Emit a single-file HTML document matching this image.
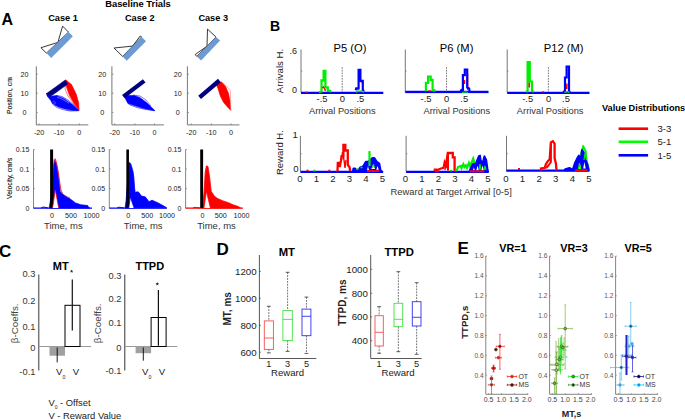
<!DOCTYPE html>
<html><head><meta charset="utf-8"><style>
html,body{margin:0;padding:0;background:#fff;}
svg{display:block;font-family:"Liberation Sans", sans-serif;}
</style></head><body>
<svg width="685" height="420" viewBox="0 0 685 420">
<text x="1.50" y="25.43" font-size="16" text-anchor="start" fill="#000" font-weight="bold" >A</text>
<text x="138.00" y="6.67" font-size="9.4" text-anchor="middle" fill="#000" font-weight="bold" >Baseline Trials</text>
<text x="63.00" y="21.49" font-size="9.2" text-anchor="middle" fill="#000" font-weight="bold" >Case 1</text>
<text x="139.80" y="21.49" font-size="9.2" text-anchor="middle" fill="#000" font-weight="bold" >Case 2</text>
<text x="213.20" y="21.49" font-size="9.2" text-anchor="middle" fill="#000" font-weight="bold" >Case 3</text>
<polygon points="46.40,53.10 40.90,47.70 57.90,42.40 62.60,26.10 68.50,32.10" stroke="#222" stroke-width="0.9" fill="white" />
<polygon points="46.40,53.10 51.20,58.10 72.90,36.20 68.50,32.10" stroke="none" stroke-width="0" fill="#6c9bd3" />
<polygon points="122.60,56.40 114.00,48.00 132.60,46.10 140.20,36.00 141.70,36.90" stroke="#222" stroke-width="0.9" fill="white" />
<polygon points="122.60,56.40 126.70,60.70 146.00,41.20 141.70,36.90" stroke="none" stroke-width="0" fill="#6c9bd3" />
<polygon points="196.80,56.40 195.20,54.50 207.00,46.20 207.50,29.10 216.00,37.10" stroke="#222" stroke-width="0.9" fill="white" />
<polygon points="196.80,56.40 201.10,60.50 220.10,40.60 216.00,37.10" stroke="none" stroke-width="0" fill="#6c9bd3" />
<line x1="36.30" y1="66.30" x2="36.30" y2="124.90" stroke="#777" stroke-width="1" />
<line x1="36.30" y1="124.90" x2="88.30" y2="124.90" stroke="#777" stroke-width="1" />
<text x="24.60" y="76.78" font-size="7.2" text-anchor="middle" fill="#222" >20</text>
<line x1="36.30" y1="74.20" x2="37.80" y2="74.20" stroke="#777" stroke-width="0.8" />
<text x="24.60" y="95.78" font-size="7.2" text-anchor="middle" fill="#222" >10</text>
<line x1="36.30" y1="93.20" x2="37.80" y2="93.20" stroke="#777" stroke-width="0.8" />
<text x="24.60" y="114.98" font-size="7.2" text-anchor="middle" fill="#222" >0</text>
<line x1="36.30" y1="112.40" x2="37.80" y2="112.40" stroke="#777" stroke-width="0.8" />
<text x="39.10" y="134.78" font-size="7.2" text-anchor="middle" fill="#222" >-20</text>
<line x1="39.10" y1="124.90" x2="39.10" y2="123.40" stroke="#777" stroke-width="0.8" />
<text x="59.00" y="134.78" font-size="7.2" text-anchor="middle" fill="#222" >-10</text>
<line x1="59.00" y1="124.90" x2="59.00" y2="123.40" stroke="#777" stroke-width="0.8" />
<text x="79.30" y="134.78" font-size="7.2" text-anchor="middle" fill="#222" >0</text>
<line x1="79.30" y1="124.90" x2="79.30" y2="123.40" stroke="#777" stroke-width="0.8" />
<text x="0" y="2.43" font-size="6.8" text-anchor="middle" fill="#000" transform="translate(10.00,95.60) rotate(-90)" stroke="#000" stroke-width="0.08">Position, cm</text>
<line x1="111.90" y1="66.30" x2="111.90" y2="124.90" stroke="#777" stroke-width="1" />
<line x1="111.90" y1="124.90" x2="163.90" y2="124.90" stroke="#777" stroke-width="1" />
<text x="102.30" y="76.78" font-size="7.2" text-anchor="middle" fill="#222" >20</text>
<line x1="111.90" y1="74.20" x2="113.40" y2="74.20" stroke="#777" stroke-width="0.8" />
<text x="102.30" y="95.78" font-size="7.2" text-anchor="middle" fill="#222" >10</text>
<line x1="111.90" y1="93.20" x2="113.40" y2="93.20" stroke="#777" stroke-width="0.8" />
<text x="102.30" y="114.98" font-size="7.2" text-anchor="middle" fill="#222" >0</text>
<line x1="111.90" y1="112.40" x2="113.40" y2="112.40" stroke="#777" stroke-width="0.8" />
<text x="114.70" y="134.78" font-size="7.2" text-anchor="middle" fill="#222" >-20</text>
<line x1="114.70" y1="124.90" x2="114.70" y2="123.40" stroke="#777" stroke-width="0.8" />
<text x="134.90" y="134.78" font-size="7.2" text-anchor="middle" fill="#222" >-10</text>
<line x1="134.90" y1="124.90" x2="134.90" y2="123.40" stroke="#777" stroke-width="0.8" />
<text x="154.60" y="134.78" font-size="7.2" text-anchor="middle" fill="#222" >0</text>
<line x1="154.60" y1="124.90" x2="154.60" y2="123.40" stroke="#777" stroke-width="0.8" />
<line x1="187.40" y1="66.30" x2="187.40" y2="124.90" stroke="#777" stroke-width="1" />
<line x1="187.40" y1="124.90" x2="239.40" y2="124.90" stroke="#777" stroke-width="1" />
<text x="177.80" y="76.78" font-size="7.2" text-anchor="middle" fill="#222" >20</text>
<line x1="187.40" y1="74.20" x2="188.90" y2="74.20" stroke="#777" stroke-width="0.8" />
<text x="177.80" y="95.78" font-size="7.2" text-anchor="middle" fill="#222" >10</text>
<line x1="187.40" y1="93.20" x2="188.90" y2="93.20" stroke="#777" stroke-width="0.8" />
<text x="177.80" y="114.98" font-size="7.2" text-anchor="middle" fill="#222" >0</text>
<line x1="187.40" y1="112.40" x2="188.90" y2="112.40" stroke="#777" stroke-width="0.8" />
<text x="191.20" y="134.78" font-size="7.2" text-anchor="middle" fill="#222" >-20</text>
<line x1="191.20" y1="124.90" x2="191.20" y2="123.40" stroke="#777" stroke-width="0.8" />
<text x="211.30" y="134.78" font-size="7.2" text-anchor="middle" fill="#222" >-10</text>
<line x1="211.30" y1="124.90" x2="211.30" y2="123.40" stroke="#777" stroke-width="0.8" />
<text x="231.10" y="134.78" font-size="7.2" text-anchor="middle" fill="#222" >0</text>
<line x1="231.10" y1="124.90" x2="231.10" y2="123.40" stroke="#777" stroke-width="0.8" />
<polygon points="46.50,93.10 49.50,96.50 56.20,95.50 63.80,98.40 72.40,104.60 78.60,110.30 78.60,110.70 68.60,110.30 59.10,107.40 52.40,103.60 51.00,100.70 47.10,96.00" stroke="#0000ff" stroke-width="0.6" fill="#0000ff" />
<polyline points="51.50,101.00 53.00,104.50 57.00,107.50 63.00,109.60 70.00,111.00 78.60,110.70" stroke="#0000ff" stroke-width="0.6" fill="none" />
<polyline points="56.00,95.30 62.00,96.50 68.00,100.00 74.00,105.00 78.60,110.30" stroke="#0000ff" stroke-width="0.6" fill="none" />
<polyline points="57.00,97.20 61.00,98.60 65.00,100.80 69.00,103.30" stroke="#ffffff" stroke-width="0.5" fill="none" opacity="0.75"/>
<polyline points="52.20,102.50 53.50,101.20 55.50,102.60 54.50,104.20 52.80,103.80" stroke="#ffffff" stroke-width="0.45" fill="none" opacity="0.7"/>
<polyline points="58.00,107.30 64.00,109.20 71.00,110.30" stroke="#ffffff" stroke-width="0.45" fill="none" opacity="0.7"/>
<polygon points="65.70,79.80 71.50,84.50 76.20,94.10 78.60,102.60 79.10,110.30 74.30,103.60 69.50,95.00 67.00,88.00 66.00,84.00" stroke="#ff0000" stroke-width="0.6" fill="#ff0000" />
<polyline points="65.50,84.00 65.00,89.00 68.00,96.00 74.00,104.00 79.10,110.30" stroke="#ff0000" stroke-width="0.5" fill="none" />
<polyline points="66.00,86.00 70.00,97.00 79.10,110.30" stroke="#ff0000" stroke-width="0.4" fill="none" />
<polygon points="46.50,93.60 65.30,80.00 67.50,84.30 49.80,97.00" stroke="#000080" stroke-width="0.5" fill="#000080" />
<polygon points="123.60,95.50 134.10,95.50 139.80,97.40 146.50,102.60 154.60,110.30 154.60,110.70 143.60,108.40 134.10,105.50 128.30,103.60 126.90,101.70 125.00,97.90" stroke="#0000ff" stroke-width="0.6" fill="#0000ff" />
<polyline points="127.00,102.50 130.00,105.00 138.00,107.80 146.00,109.50 154.60,110.70" stroke="#0000ff" stroke-width="0.6" fill="none" />
<polyline points="133.00,95.00 140.00,96.00 146.00,100.00 151.00,106.00" stroke="#0000ff" stroke-width="0.5" fill="none" />
<line x1="123.40" y1="96.60" x2="144.20" y2="80.90" stroke="#000080" stroke-width="4.3" stroke-linecap="butt" stroke-linejoin="round"/>
<polygon points="215.50,82.60 221.70,82.10 225.50,86.40 228.40,93.10 229.80,99.80 230.70,110.30 228.40,107.90 223.60,102.60 220.30,96.00 217.90,88.30" stroke="#ff0000" stroke-width="0.6" fill="#ff0000" />
<polyline points="221.20,81.70 226.50,86.40 230.30,90.30 230.60,97.00 230.70,110.30" stroke="#ff6060" stroke-width="0.5" fill="none" />
<line x1="199.60" y1="97.40" x2="219.40" y2="80.50" stroke="#000080" stroke-width="4.3" stroke-linecap="butt"/>
<line x1="33.50" y1="149.50" x2="33.50" y2="208.10" stroke="#777" stroke-width="0.9" />
<text x="29.30" y="152.01" font-size="7" text-anchor="end" fill="#222" >0.15</text>
<line x1="33.50" y1="149.50" x2="34.80" y2="149.50" stroke="#777" stroke-width="0.7" />
<text x="29.30" y="171.51" font-size="7" text-anchor="end" fill="#222" >0.1</text>
<line x1="33.50" y1="169.00" x2="34.80" y2="169.00" stroke="#777" stroke-width="0.7" />
<text x="29.30" y="191.11" font-size="7" text-anchor="end" fill="#222" >0.05</text>
<line x1="33.50" y1="188.60" x2="34.80" y2="188.60" stroke="#777" stroke-width="0.7" />
<text x="29.30" y="210.61" font-size="7" text-anchor="end" fill="#222" >0</text>
<line x1="33.50" y1="208.10" x2="34.80" y2="208.10" stroke="#777" stroke-width="0.7" />
<polygon points="49.20,208.10 50.40,200.90 52.40,184.90 53.60,165.80 54.80,160.20 56.40,164.20 58.00,173.80 59.60,186.50 60.20,191.40 62.00,193.50 64.80,195.60 70.20,199.00 75.50,202.90 80.80,204.80 87.70,205.50 88.80,207.80 89.90,208.10" stroke="#0000ff" stroke-width="0.8" fill="#0000ff" />
<polyline points="41.00,208.00 43.00,207.00 46.00,207.50 48.00,208.00" stroke="#0000ff" stroke-width="1.0" fill="none" />
<line x1="33.50" y1="208.10" x2="92.00" y2="208.10" stroke="#0000ff" stroke-width="1.2" />
<rect x="50.10" y="149.50" width="3.00" height="58.60" fill="#000" stroke="none" stroke-width="1"/>
<polygon points="52.60,208.10 55.30,190.00 58.70,208.10" stroke="none" stroke-width="0" fill="white" />
<polyline points="52.60,208.10 55.30,190.00 58.70,208.10" stroke="#ff0000" stroke-width="0.7" fill="none" />
<text x="52.10" y="218.18" font-size="7.2" text-anchor="middle" fill="#222" >0</text>
<text x="70.90" y="218.18" font-size="7.2" text-anchor="middle" fill="#222" >500</text>
<text x="91.50" y="218.18" font-size="7.2" text-anchor="middle" fill="#222" >1000</text>
<text x="63.30" y="228.90" font-size="9.5" text-anchor="middle" fill="#333" >Time, ms</text>
<text x="0" y="2.43" font-size="6.8" text-anchor="middle" fill="#000" transform="translate(10.00,178.50) rotate(-90)" stroke="#000" stroke-width="0.08">Velocity, cm/s</text>
<line x1="109.30" y1="149.50" x2="109.30" y2="208.10" stroke="#777" stroke-width="0.9" />
<text x="105.10" y="152.01" font-size="7" text-anchor="end" fill="#222" >0.15</text>
<line x1="109.30" y1="149.50" x2="110.60" y2="149.50" stroke="#777" stroke-width="0.7" />
<text x="105.10" y="171.51" font-size="7" text-anchor="end" fill="#222" >0.1</text>
<line x1="109.30" y1="169.00" x2="110.60" y2="169.00" stroke="#777" stroke-width="0.7" />
<text x="105.10" y="191.11" font-size="7" text-anchor="end" fill="#222" >0.05</text>
<line x1="109.30" y1="188.60" x2="110.60" y2="188.60" stroke="#777" stroke-width="0.7" />
<text x="105.10" y="210.61" font-size="7" text-anchor="end" fill="#222" >0</text>
<line x1="109.30" y1="208.10" x2="110.60" y2="208.10" stroke="#777" stroke-width="0.7" />
<polygon points="125.00,208.10 126.10,200.90 128.00,175.00 129.00,162.60 130.60,163.40 131.40,165.80 133.00,171.40 133.80,177.00 134.60,188.10 135.20,192.60 137.00,191.80 138.70,192.20 141.30,196.00 145.20,196.80 149.00,201.70 152.00,200.20 158.10,202.90 164.20,206.30 166.50,207.80" stroke="#0000ff" stroke-width="0.8" fill="#0000ff" />
<polyline points="117.00,208.00 119.00,207.20 122.00,207.60 124.00,208.00" stroke="#0000ff" stroke-width="1.0" fill="none" />
<line x1="109.30" y1="208.10" x2="166.90" y2="208.10" stroke="#0000ff" stroke-width="1.2" />
<rect x="126.35" y="149.50" width="2.60" height="58.60" fill="#000" stroke="none" stroke-width="1"/>
<polygon points="128.80,208.10 130.30,197.10 134.10,208.10" stroke="none" stroke-width="0" fill="white" />
<polyline points="128.80,208.10 130.30,197.10 134.10,208.10" stroke="#0000ff" stroke-width="0.7" fill="none" />
<text x="128.30" y="218.18" font-size="7.2" text-anchor="middle" fill="#222" >0</text>
<text x="147.20" y="218.18" font-size="7.2" text-anchor="middle" fill="#222" >500</text>
<text x="167.00" y="218.18" font-size="7.2" text-anchor="middle" fill="#222" >1000</text>
<text x="143.20" y="228.90" font-size="9.5" text-anchor="middle" fill="#333" >Time, ms</text>
<line x1="185.60" y1="149.50" x2="185.60" y2="208.10" stroke="#777" stroke-width="0.9" />
<text x="181.40" y="152.01" font-size="7" text-anchor="end" fill="#222" >0.15</text>
<line x1="185.60" y1="149.50" x2="186.90" y2="149.50" stroke="#777" stroke-width="0.7" />
<text x="181.40" y="171.51" font-size="7" text-anchor="end" fill="#222" >0.1</text>
<line x1="185.60" y1="169.00" x2="186.90" y2="169.00" stroke="#777" stroke-width="0.7" />
<text x="181.40" y="191.11" font-size="7" text-anchor="end" fill="#222" >0.05</text>
<line x1="185.60" y1="188.60" x2="186.90" y2="188.60" stroke="#777" stroke-width="0.7" />
<text x="181.40" y="210.61" font-size="7" text-anchor="end" fill="#222" >0</text>
<line x1="185.60" y1="208.10" x2="186.90" y2="208.10" stroke="#777" stroke-width="0.7" />
<polygon points="202.40,208.10 204.00,192.90 205.20,172.20 206.40,165.80 208.00,166.60 209.60,177.00 211.20,191.30 214.30,196.10 217.50,198.50 223.10,200.90 227.90,202.50 233.50,204.90 238.30,206.50 240.70,208.10" stroke="#ff0000" stroke-width="0.8" fill="#ff0000" />
<polyline points="193.00,208.00 195.00,207.30 198.00,207.70 200.00,208.00" stroke="#ff0000" stroke-width="1.0" fill="none" />
<line x1="185.60" y1="208.10" x2="242.90" y2="208.10" stroke="#ff0000" stroke-width="1.2" />
<rect x="200.20" y="149.50" width="2.90" height="58.60" fill="#000" stroke="none" stroke-width="1"/>
<polygon points="204.00,208.10 206.40,191.30 210.40,208.10" stroke="none" stroke-width="0" fill="white" />
<polyline points="204.00,208.10 206.40,191.30 210.40,208.10" stroke="#ff0000" stroke-width="0.7" fill="none" />
<text x="202.40" y="218.18" font-size="7.2" text-anchor="middle" fill="#222" >0</text>
<text x="220.80" y="218.18" font-size="7.2" text-anchor="middle" fill="#222" >500</text>
<text x="241.50" y="218.18" font-size="7.2" text-anchor="middle" fill="#222" >1000</text>
<text x="216.50" y="228.90" font-size="9.5" text-anchor="middle" fill="#333" >Time, ms</text>
<polyline points="53.40,168.00 54.20,159.20 55.30,158.80 56.80,164.00 58.30,172.00 59.80,183.00 61.00,190.00 62.50,193.50" stroke="#ff0000" stroke-width="0.8" fill="none" />
<polyline points="62.00,193.00 64.00,195.00 67.00,197.00 70.00,197.50" stroke="#ff3030" stroke-width="0.6" fill="none" />
<text x="270.00" y="31.31" font-size="14" text-anchor="start" fill="#000" font-weight="bold" >B</text>
<text x="350.00" y="51.71" font-size="11.2" text-anchor="middle" fill="#000" >P5 (O)</text>
<line x1="301.00" y1="49.50" x2="301.00" y2="92.70" stroke="#666" stroke-width="0.9" />
<line x1="301.00" y1="71.00" x2="302.30" y2="71.00" stroke="#666" stroke-width="0.7" />
<line x1="342.20" y1="67.20" x2="342.20" y2="92.70" stroke="#666" stroke-width="0.9" stroke-dasharray="1.6,1.1"/>
<text x="322.00" y="101.77" font-size="9.4" text-anchor="middle" fill="#222" >-.5</text>
<text x="342.40" y="101.77" font-size="9.4" text-anchor="middle" fill="#222" >0</text>
<text x="360.30" y="101.77" font-size="9.4" text-anchor="middle" fill="#222" >.5</text>
<text x="342.30" y="114.03" font-size="9.3" text-anchor="middle" fill="#333" >Arrival Positions</text>
<text x="297.00" y="54.22" font-size="9" text-anchor="end" fill="#222" >.6</text>
<text x="297.00" y="93.42" font-size="9" text-anchor="end" fill="#222" >0</text>
<text x="0" y="3.44" font-size="9.6" text-anchor="middle" fill="#222" transform="translate(279.60,71.00) rotate(-90)" >Arrivals H.</text>
<text x="456.60" y="51.71" font-size="11.2" text-anchor="middle" fill="#000" >P6 (M)</text>
<line x1="405.30" y1="49.50" x2="405.30" y2="92.70" stroke="#666" stroke-width="0.9" />
<line x1="405.30" y1="71.00" x2="406.60" y2="71.00" stroke="#666" stroke-width="0.7" />
<line x1="446.50" y1="67.20" x2="446.50" y2="92.70" stroke="#666" stroke-width="0.9" stroke-dasharray="1.6,1.1"/>
<text x="426.00" y="101.77" font-size="9.4" text-anchor="middle" fill="#222" >-.5</text>
<text x="446.70" y="101.77" font-size="9.4" text-anchor="middle" fill="#222" >0</text>
<text x="464.20" y="101.77" font-size="9.4" text-anchor="middle" fill="#222" >.5</text>
<text x="456.80" y="114.03" font-size="9.3" text-anchor="middle" fill="#333" >Arrival Positions</text>
<text x="563.70" y="51.71" font-size="11.2" text-anchor="middle" fill="#000" >P12 (M)</text>
<line x1="507.20" y1="49.50" x2="507.20" y2="92.70" stroke="#666" stroke-width="0.9" />
<line x1="507.20" y1="71.00" x2="508.50" y2="71.00" stroke="#666" stroke-width="0.7" />
<line x1="548.40" y1="67.20" x2="548.40" y2="92.70" stroke="#666" stroke-width="0.9" stroke-dasharray="1.6,1.1"/>
<text x="527.70" y="101.77" font-size="9.4" text-anchor="middle" fill="#222" >-.5</text>
<text x="548.50" y="101.77" font-size="9.4" text-anchor="middle" fill="#222" >0</text>
<text x="566.00" y="101.77" font-size="9.4" text-anchor="middle" fill="#222" >.5</text>
<text x="550.20" y="114.03" font-size="9.3" text-anchor="middle" fill="#333" >Arrival Positions</text>
<line x1="301.00" y1="92.80" x2="383.30" y2="92.80" stroke="#0000ff" stroke-width="2.2" />
<polyline points="319.00,92.20 321.50,91.50 321.50,80.40 323.60,80.40 323.60,70.80 325.40,70.80 325.40,87.40 327.80,87.40 327.80,90.90 330.00,90.90 331.00,92.00" stroke="#00ee00" stroke-width="2.2" fill="none" stroke-linejoin="miter"/>
<polyline points="322.30,88.00 323.50,86.80 325.60,90.90" stroke="#ff0000" stroke-width="1.4" fill="none" stroke-linejoin="miter"/>
<polyline points="355.70,90.30 356.20,88.30 358.60,88.30 358.60,69.90 360.40,69.90 360.40,80.80 362.80,80.80 362.80,90.90 364.50,90.90" stroke="#0000ff" stroke-width="2.2" fill="none" stroke-linejoin="miter"/>
<polyline points="360.80,82.30 361.80,82.30" stroke="#ff0000" stroke-width="1.2" fill="none" stroke-linejoin="miter"/>
<polyline points="357.50,90.30 358.50,89.00" stroke="#ff0000" stroke-width="1.2" fill="none" stroke-linejoin="miter"/>
<polyline points="356.00,92.00 358.00,91.30 362.00,91.30 364.00,92.00" stroke="#00ee00" stroke-width="1.4" fill="none" stroke-linejoin="miter"/>
<line x1="305.00" y1="92.20" x2="308.00" y2="92.20" stroke="#ff0000" stroke-width="1" />
<line x1="405.30" y1="92.70" x2="488.50" y2="92.70" stroke="#00ee00" stroke-width="1.2" />
<line x1="405.30" y1="91.90" x2="488.50" y2="91.90" stroke="#0000ff" stroke-width="2.2" />
<polyline points="425.90,91.30 425.90,82.80 428.10,82.80 428.10,76.60 430.70,76.60 430.70,79.90 432.60,79.90 432.60,90.40 434.50,90.40 434.50,91.80" stroke="#00ee00" stroke-width="2.2" fill="none" stroke-linejoin="miter"/>
<polyline points="428.00,91.00 431.00,91.00" stroke="#ff0000" stroke-width="1.2" fill="none" stroke-linejoin="miter"/>
<polyline points="467.70,73.50 467.70,90.00" stroke="#ff0000" stroke-width="1.2" fill="none" stroke-linejoin="miter"/>
<polyline points="460.50,91.30 461.50,89.90 462.90,89.90 462.90,75.20 464.80,75.20 464.80,69.50 467.20,69.50 467.20,87.50 469.10,88.50 469.60,91.30" stroke="#0000ff" stroke-width="2.2" fill="none" stroke-linejoin="miter"/>
<polyline points="464.60,80.00 464.60,84.00" stroke="#ff0000" stroke-width="1.2" fill="none" stroke-linejoin="miter"/>
<polyline points="462.00,92.50 466.00,91.80 468.00,92.50" stroke="#00ee00" stroke-width="1.2" fill="none" stroke-linejoin="miter"/>
<line x1="507.20" y1="92.80" x2="589.50" y2="92.80" stroke="#0000ff" stroke-width="2.2" />
<polyline points="526.00,91.80 527.60,91.00 527.60,62.00 529.80,62.00 529.80,81.50 532.00,81.50 532.00,91.00 534.00,91.80" stroke="#00ee00" stroke-width="2.2" fill="none" stroke-linejoin="miter"/>
<polyline points="529.30,82.50 529.30,87.50" stroke="#ff0000" stroke-width="1.6" fill="none" stroke-linejoin="miter"/>
<polyline points="563.00,92.00 565.00,91.00 565.00,77.50 566.60,77.50 566.60,66.50 569.00,66.50 569.00,91.50 570.50,92.00" stroke="#0000ff" stroke-width="2.2" fill="none" stroke-linejoin="miter"/>
<polyline points="566.80,83.50 566.80,89.00" stroke="#ff0000" stroke-width="1.6" fill="none" stroke-linejoin="miter"/>
<polyline points="564.50,92.30 567.00,91.60 569.50,92.30" stroke="#00ee00" stroke-width="1.4" fill="none" stroke-linejoin="miter"/>
<line x1="542.00" y1="91.90" x2="544.00" y2="91.90" stroke="#ff0000" stroke-width="1" />
<line x1="300.40" y1="135.80" x2="300.40" y2="171.60" stroke="#666" stroke-width="0.9" />
<line x1="300.40" y1="153.70" x2="301.70" y2="153.70" stroke="#666" stroke-width="0.7" />
<text x="299.80" y="181.64" font-size="9.6" text-anchor="middle" fill="#222" >0</text>
<text x="316.30" y="181.64" font-size="9.6" text-anchor="middle" fill="#222" >1</text>
<text x="332.80" y="181.64" font-size="9.6" text-anchor="middle" fill="#222" >2</text>
<text x="349.30" y="181.64" font-size="9.6" text-anchor="middle" fill="#222" >3</text>
<text x="365.80" y="181.64" font-size="9.6" text-anchor="middle" fill="#222" >4</text>
<text x="382.30" y="181.64" font-size="9.6" text-anchor="middle" fill="#222" >5</text>
<text x="295.20" y="138.24" font-size="9.6" text-anchor="middle" fill="#222" >1</text>
<text x="295.80" y="172.24" font-size="9.6" text-anchor="middle" fill="#222" >0</text>
<text x="0" y="3.40" font-size="9.5" text-anchor="middle" fill="#222" transform="translate(279.40,152.60) rotate(-90)" >Reward H.</text>
<line x1="406.10" y1="135.80" x2="406.10" y2="171.60" stroke="#666" stroke-width="0.9" />
<line x1="406.10" y1="153.70" x2="407.40" y2="153.70" stroke="#666" stroke-width="0.7" />
<text x="405.50" y="181.64" font-size="9.6" text-anchor="middle" fill="#222" >0</text>
<text x="421.96" y="181.64" font-size="9.6" text-anchor="middle" fill="#222" >1</text>
<text x="438.42" y="181.64" font-size="9.6" text-anchor="middle" fill="#222" >2</text>
<text x="454.88" y="181.64" font-size="9.6" text-anchor="middle" fill="#222" >3</text>
<text x="471.34" y="181.64" font-size="9.6" text-anchor="middle" fill="#222" >4</text>
<text x="487.80" y="181.64" font-size="9.6" text-anchor="middle" fill="#222" >5</text>
<line x1="506.50" y1="135.80" x2="506.50" y2="171.60" stroke="#666" stroke-width="0.9" />
<line x1="506.50" y1="153.70" x2="507.80" y2="153.70" stroke="#666" stroke-width="0.7" />
<text x="505.90" y="181.64" font-size="9.6" text-anchor="middle" fill="#222" >0</text>
<text x="522.52" y="181.64" font-size="9.6" text-anchor="middle" fill="#222" >1</text>
<text x="539.14" y="181.64" font-size="9.6" text-anchor="middle" fill="#222" >2</text>
<text x="555.76" y="181.64" font-size="9.6" text-anchor="middle" fill="#222" >3</text>
<text x="572.38" y="181.64" font-size="9.6" text-anchor="middle" fill="#222" >4</text>
<text x="589.00" y="181.64" font-size="9.6" text-anchor="middle" fill="#222" >5</text>
<text x="451.20" y="194.87" font-size="9.4" text-anchor="middle" fill="#333" >Reward at Target Arrival [0-5]</text>
<line x1="300.40" y1="171.80" x2="382.90" y2="171.80" stroke="#0000ff" stroke-width="2.2" />
<polyline points="337.50,171.50 337.80,162.90 339.70,162.90 339.70,167.00 340.90,161.00 341.60,156.10 343.40,156.10 343.40,144.90 345.30,144.90 345.30,150.50 347.80,150.50 347.80,164.80 349.60,167.30 350.20,171.00" stroke="#ff0000" stroke-width="2.3" fill="none" stroke-linejoin="miter"/>
<polyline points="341.60,160.00 342.50,152.00 344.00,160.00 345.00,168.00 346.00,160.00" stroke="#ff0000" stroke-width="1.4" fill="none" stroke-linejoin="miter"/>
<line x1="306.50" y1="170.60" x2="308.50" y2="170.60" stroke="#ff0000" stroke-width="1.8" />
<line x1="328.30" y1="170.60" x2="330.30" y2="170.60" stroke="#ff0000" stroke-width="1.8" />
<line x1="313.30" y1="170.60" x2="315.30" y2="170.60" stroke="#00ee00" stroke-width="1.8" />
<polygon points="352.73,171.85 353.35,168.50 355.21,168.50 356.45,170.98 358.31,170.36 360.17,167.26 362.03,166.64 363.28,166.02 365.76,161.67 368.24,161.67 370.10,159.81 372.58,157.95 374.44,157.95 376.92,161.67 379.40,163.54 380.65,170.36 382.51,171.85" stroke="#0000ff" stroke-width="1.8" fill="#0000ff" stroke-linejoin="round"/>
<polygon points="371.34,169.12 373.20,164.16 375.06,169.12" stroke="none" stroke-width="0" fill="white" />
<polygon points="376.30,169.74 377.54,166.02 378.78,169.74" stroke="none" stroke-width="0" fill="white" />
<polygon points="367.00,170.36 367.99,166.02 368.98,170.36" stroke="none" stroke-width="0" fill="white" />
<polyline points="369.50,151.10 369.50,166.00" stroke="#00ee00" stroke-width="2.2" fill="none" stroke-linejoin="miter"/>
<line x1="356.50" y1="169.00" x2="358.50" y2="169.00" stroke="#00ee00" stroke-width="1.6" />
<line x1="360.50" y1="167.50" x2="362.50" y2="167.50" stroke="#00ee00" stroke-width="1.6" />
<polyline points="372.50,168.00 373.50,164.00 374.50,168.00" stroke="#00ee00" stroke-width="1.0" fill="none" stroke-linejoin="miter"/>
<line x1="367.00" y1="171.00" x2="379.40" y2="171.00" stroke="#ff0000" stroke-width="2" />
<line x1="406.10" y1="171.80" x2="488.40" y2="171.80" stroke="#0000ff" stroke-width="2.2" />
<polyline points="434.80,171.00 434.80,169.70 436.00,169.70 436.00,171.00 437.90,171.00 437.90,169.70 441.00,168.50 443.50,167.90 444.70,162.30 446.00,165.00 447.80,153.00 452.80,153.00 452.80,157.30 454.60,157.30 454.60,169.70 455.00,171.50" stroke="#ff0000" stroke-width="2.3" fill="none" stroke-linejoin="miter"/>
<polyline points="448.00,153.00 448.00,170.50" stroke="#ff0000" stroke-width="2" fill="none" stroke-linejoin="miter"/>
<polyline points="445.00,170.00 446.00,163.00 447.00,168.00" stroke="#ff0000" stroke-width="1.4" fill="none" stroke-linejoin="miter"/>
<line x1="450.00" y1="170.60" x2="452.00" y2="170.60" stroke="#00ee00" stroke-width="1.8" />
<polyline points="455.50,171.00 457.10,169.70 458.00,167.00 460.80,166.00 461.50,168.00 463.30,164.20 464.50,167.00 465.80,165.40 467.00,168.00 468.90,162.90 470.00,166.00 471.00,164.00 473.20,158.60 475.00,165.00 477.00,168.00 479.40,164.80 481.00,168.00 484.40,168.50 486.00,171.00" stroke="#00ee00" stroke-width="2.2" fill="none" stroke-linejoin="miter"/>
<polygon points="468.90,171.85 469.52,170.98 472.62,164.16 475.72,163.54 478.82,156.09 480.06,155.47 480.68,159.81 482.54,163.54 484.40,156.09 486.27,159.81 487.51,168.50 488.13,171.85" stroke="#0000ff" stroke-width="1.8" fill="#0000ff" stroke-linejoin="round"/>
<polygon points="476.34,170.36 477.58,165.40 478.82,170.36" stroke="none" stroke-width="0" fill="white" />
<polygon points="481.30,170.36 482.54,165.40 483.78,170.36" stroke="none" stroke-width="0" fill="white" />
<polygon points="472.99,170.36 473.86,167.26 474.73,170.36" stroke="none" stroke-width="0" fill="white" />
<polyline points="479.00,170.00 480.00,164.00 481.00,170.00" stroke="#00ee00" stroke-width="1.2" fill="none" stroke-linejoin="miter"/>
<polyline points="484.00,170.00 485.00,166.00 486.00,170.00" stroke="#00ee00" stroke-width="1.2" fill="none" stroke-linejoin="miter"/>
<line x1="469.50" y1="171.30" x2="484.40" y2="171.30" stroke="#ff0000" stroke-width="2" />
<line x1="506.50" y1="170.60" x2="589.40" y2="170.60" stroke="#0000ff" stroke-width="2.2" />
<line x1="518.00" y1="169.00" x2="520.00" y2="169.00" stroke="#ff0000" stroke-width="1.8" />
<polyline points="541.00,170.40 541.00,168.50 544.70,167.90 545.90,164.20 547.80,161.10 549.70,159.20 550.90,142.40 552.80,141.20 554.60,143.70 554.60,158.00 555.90,163.50 556.50,170.40" stroke="#ff0000" stroke-width="2.3" fill="none" stroke-linejoin="miter"/>
<polyline points="550.90,143.00 550.90,162.00 548.00,166.00 546.00,168.00" stroke="#ff0000" stroke-width="2" fill="none" stroke-linejoin="miter"/>
<polyline points="578.50,166.00 580.00,159.00 581.00,154.00 583.20,146.80 585.60,151.10 586.50,160.00 588.00,166.00 589.00,170.00" stroke="#00ee00" stroke-width="2.0" fill="none" stroke-linejoin="miter"/>
<polygon points="564.55,170.36 565.17,169.12 569.52,167.88 572.62,169.74 575.10,162.30 576.96,158.57 578.82,155.47 580.68,159.81 581.92,149.89 583.78,152.37 585.65,159.81 587.51,164.78 588.75,170.36" stroke="#0000ff" stroke-width="1.8" fill="#0000ff" stroke-linejoin="round"/>
<polygon points="578.20,169.12 579.69,162.92 581.18,169.12" stroke="none" stroke-width="0" fill="white" />
<polygon points="583.16,168.50 584.40,161.67 585.65,168.50" stroke="none" stroke-width="0" fill="white" />
<polyline points="582.50,149.00 583.20,146.80 584.50,148.00" stroke="#00ee00" stroke-width="1.6" fill="none" stroke-linejoin="miter"/>
<polyline points="584.00,160.00 585.00,153.00 586.50,160.00" stroke="#00ee00" stroke-width="1.2" fill="none" stroke-linejoin="miter"/>
<polyline points="578.50,169.00 579.50,163.00 580.50,169.00" stroke="#00ee00" stroke-width="1.2" fill="none" stroke-linejoin="miter"/>
<line x1="575.10" y1="170.20" x2="587.50" y2="170.20" stroke="#ff0000" stroke-width="2" />
<text x="602.00" y="110.79" font-size="9.2" text-anchor="start" fill="#000" font-weight="bold" >Value Distributions</text>
<line x1="618.60" y1="128.70" x2="648.10" y2="128.70" stroke="#ff0000" stroke-width="2.6" />
<text x="657.50" y="132.14" font-size="9.6" text-anchor="start" fill="#222" >3-3</text>
<line x1="618.60" y1="141.80" x2="648.10" y2="141.80" stroke="#00ff00" stroke-width="2.6" />
<text x="657.50" y="145.24" font-size="9.6" text-anchor="start" fill="#222" >5-1</text>
<line x1="618.60" y1="155.30" x2="648.10" y2="155.30" stroke="#0000ff" stroke-width="2.6" />
<text x="657.50" y="158.74" font-size="9.6" text-anchor="start" fill="#222" >1-5</text>
<text x="-1.00" y="257.39" font-size="17" text-anchor="start" fill="#000" font-weight="bold" >C</text>
<text x="60.70" y="270.24" font-size="11" text-anchor="middle" fill="#000" font-weight="bold" >MT</text>
<line x1="38.70" y1="274.50" x2="38.70" y2="370.50" stroke="#777" stroke-width="1.5" />
<line x1="38.70" y1="346.50" x2="91.20" y2="346.50" stroke="#999" stroke-width="1.0" />
<text x="35.40" y="277.13" font-size="9.3" text-anchor="end" fill="#333" >0.3</text>
<text x="35.40" y="304.13" font-size="9.3" text-anchor="end" fill="#333" >0.2</text>
<text x="35.40" y="329.53" font-size="9.3" text-anchor="end" fill="#333" >0.1</text>
<text x="35.40" y="351.23" font-size="9.3" text-anchor="end" fill="#333" >0</text>
<text x="35.40" y="374.63" font-size="9.3" text-anchor="end" fill="#333" >-0.1</text>
<rect x="49.50" y="346.50" width="15.50" height="9.20" fill="#a0a0a0" stroke="none" stroke-width="1"/>
<line x1="57.20" y1="347.50" x2="57.20" y2="362.40" stroke="#000" stroke-width="0.9" />
<rect x="65.00" y="305.30" width="15.00" height="41.20" fill="white" stroke="#000" stroke-width="1.0"/>
<line x1="72.30" y1="279.60" x2="72.30" y2="330.50" stroke="#111" stroke-width="1.2" />
<polygon points="71.60,269.40 72.07,270.65 73.41,270.71 72.36,271.55 72.72,272.84 71.60,272.10 70.48,272.84 70.84,271.55 69.79,270.71 71.13,270.65" stroke="none" stroke-width="0" fill="#222" />
<text x="56.00" y="374.80" font-size="9.6" fill="#222">V<tspan font-size="5.2" dy="3.8">0</tspan></text>
<text x="75.90" y="374.84" font-size="9.6" text-anchor="middle" fill="#222" >V</text>
<text x="0" y="3.51" font-size="9.8" text-anchor="middle" fill="#444" transform="translate(14.90,323.30) rotate(-90)" >&#946;-Coeffs.</text>
<text x="149.80" y="270.24" font-size="11" text-anchor="middle" fill="#000" font-weight="bold" >TTPD</text>
<line x1="124.80" y1="274.50" x2="124.80" y2="370.50" stroke="#333" stroke-width="1.0" />
<line x1="124.80" y1="346.50" x2="177.30" y2="346.50" stroke="#999" stroke-width="1.0" />
<text x="121.50" y="278.63" font-size="9.3" text-anchor="end" fill="#333" >0.3</text>
<text x="121.50" y="302.33" font-size="9.3" text-anchor="end" fill="#333" >0.2</text>
<text x="121.50" y="326.13" font-size="9.3" text-anchor="end" fill="#333" >0.1</text>
<text x="121.50" y="350.83" font-size="9.3" text-anchor="end" fill="#333" >0</text>
<text x="121.50" y="374.13" font-size="9.3" text-anchor="end" fill="#333" >-0.1</text>
<rect x="135.60" y="346.50" width="15.50" height="6.70" fill="#a0a0a0" stroke="none" stroke-width="1"/>
<line x1="143.30" y1="347.50" x2="143.30" y2="360.70" stroke="#000" stroke-width="0.9" />
<rect x="151.10" y="317.50" width="15.00" height="29.00" fill="white" stroke="#000" stroke-width="1.0"/>
<line x1="158.40" y1="290.10" x2="158.40" y2="345.80" stroke="#111" stroke-width="1.2" />
<polygon points="157.30,282.10 157.77,283.35 159.11,283.41 158.06,284.25 158.42,285.54 157.30,284.80 156.18,285.54 156.54,284.25 155.49,283.41 156.83,283.35" stroke="none" stroke-width="0" fill="#222" />
<text x="142.10" y="374.80" font-size="9.6" fill="#222">V<tspan font-size="5.2" dy="3.8">0</tspan></text>
<text x="162.00" y="374.84" font-size="9.6" text-anchor="middle" fill="#222" >V</text>
<text x="0" y="3.51" font-size="9.8" text-anchor="middle" fill="#444" transform="translate(97.10,323.30) rotate(-90)" >&#946;-Coeffs.</text>
<text x="48.4" y="406.3" font-size="9.4" fill="#222">V<tspan font-size="5" dy="2.5">0</tspan><tspan dy="-2.5"> - Offset</tspan></text>
<text x="48.40" y="419.27" font-size="9.4" text-anchor="start" fill="#222" >V - Reward Value</text>
<text x="216.60" y="255.19" font-size="17" text-anchor="start" fill="#000" font-weight="bold" >D</text>
<text x="286.80" y="255.65" font-size="11.3" text-anchor="middle" fill="#000" font-weight="bold" >MT</text>
<line x1="259.40" y1="255.00" x2="259.40" y2="358.50" stroke="#444" stroke-width="0.9" />
<line x1="259.40" y1="358.50" x2="316.30" y2="358.50" stroke="#444" stroke-width="0.9" />
<text x="256.60" y="274.87" font-size="9.7" text-anchor="end" fill="#222" >1200</text>
<line x1="259.40" y1="271.40" x2="260.90" y2="271.40" stroke="#444" stroke-width="0.7" />
<text x="256.60" y="301.77" font-size="9.7" text-anchor="end" fill="#222" >1000</text>
<line x1="259.40" y1="298.30" x2="260.90" y2="298.30" stroke="#444" stroke-width="0.7" />
<text x="256.60" y="328.77" font-size="9.7" text-anchor="end" fill="#222" >800</text>
<line x1="259.40" y1="325.30" x2="260.90" y2="325.30" stroke="#444" stroke-width="0.7" />
<text x="256.60" y="355.67" font-size="9.7" text-anchor="end" fill="#222" >600</text>
<line x1="259.40" y1="352.20" x2="260.90" y2="352.20" stroke="#444" stroke-width="0.7" />
<line x1="268.85" y1="306.30" x2="268.85" y2="320.90" stroke="#333" stroke-width="0.7" stroke-dasharray="1.8,1.1"/>
<line x1="268.85" y1="349.40" x2="268.85" y2="352.90" stroke="#333" stroke-width="0.7" stroke-dasharray="1.8,1.1"/>
<line x1="266.95" y1="306.30" x2="270.75" y2="306.30" stroke="#333" stroke-width="0.8" />
<line x1="266.95" y1="352.90" x2="270.75" y2="352.90" stroke="#333" stroke-width="0.8" />
<rect x="264.30" y="320.90" width="9.10" height="28.50" fill="none" stroke="#f05050" stroke-width="0.9"/>
<line x1="264.30" y1="338.00" x2="273.40" y2="338.00" stroke="#f05050" stroke-width="0.9" />
<text x="268.85" y="366.89" font-size="9.2" text-anchor="middle" fill="#222" >1</text>
<line x1="287.60" y1="272.30" x2="287.60" y2="310.60" stroke="#333" stroke-width="0.7" stroke-dasharray="1.8,1.1"/>
<line x1="287.60" y1="340.60" x2="287.60" y2="351.40" stroke="#333" stroke-width="0.7" stroke-dasharray="1.8,1.1"/>
<line x1="285.70" y1="272.30" x2="289.50" y2="272.30" stroke="#333" stroke-width="0.8" />
<line x1="285.70" y1="351.40" x2="289.50" y2="351.40" stroke="#333" stroke-width="0.8" />
<rect x="282.90" y="310.60" width="9.40" height="30.00" fill="none" stroke="#40e040" stroke-width="0.9"/>
<line x1="282.90" y1="319.40" x2="292.30" y2="319.40" stroke="#40e040" stroke-width="0.9" />
<text x="287.60" y="366.89" font-size="9.2" text-anchor="middle" fill="#222" >3</text>
<line x1="306.45" y1="297.10" x2="306.45" y2="309.10" stroke="#333" stroke-width="0.7" stroke-dasharray="1.8,1.1"/>
<line x1="306.45" y1="335.70" x2="306.45" y2="353.40" stroke="#333" stroke-width="0.7" stroke-dasharray="1.8,1.1"/>
<line x1="304.55" y1="297.10" x2="308.35" y2="297.10" stroke="#333" stroke-width="0.8" />
<line x1="304.55" y1="353.40" x2="308.35" y2="353.40" stroke="#333" stroke-width="0.8" />
<rect x="302.00" y="309.10" width="8.90" height="26.60" fill="none" stroke="#3030f0" stroke-width="0.9"/>
<line x1="302.00" y1="316.30" x2="310.90" y2="316.30" stroke="#3030f0" stroke-width="0.9" />
<text x="306.45" y="366.89" font-size="9.2" text-anchor="middle" fill="#222" >5</text>
<text x="287.60" y="376.44" font-size="9.6" text-anchor="middle" fill="#222" >Reward</text>
<text x="0" y="3.58" font-size="10.0" text-anchor="middle" fill="#222" font-weight="bold" transform="translate(227.90,308.80) rotate(-90)" >MT, ms</text>
<text x="399.20" y="255.65" font-size="11.3" text-anchor="middle" fill="#000" font-weight="bold" >TTPD</text>
<line x1="370.70" y1="255.00" x2="370.70" y2="358.50" stroke="#444" stroke-width="0.9" />
<line x1="370.70" y1="358.50" x2="421.70" y2="358.50" stroke="#444" stroke-width="0.9" />
<text x="367.90" y="272.77" font-size="9.7" text-anchor="end" fill="#222" >1000</text>
<line x1="370.70" y1="269.30" x2="372.20" y2="269.30" stroke="#444" stroke-width="0.7" />
<text x="367.90" y="296.77" font-size="9.7" text-anchor="end" fill="#222" >800</text>
<line x1="370.70" y1="293.30" x2="372.20" y2="293.30" stroke="#444" stroke-width="0.7" />
<text x="367.90" y="320.37" font-size="9.7" text-anchor="end" fill="#222" >600</text>
<line x1="370.70" y1="316.90" x2="372.20" y2="316.90" stroke="#444" stroke-width="0.7" />
<text x="367.90" y="344.17" font-size="9.7" text-anchor="end" fill="#222" >400</text>
<line x1="370.70" y1="340.70" x2="372.20" y2="340.70" stroke="#444" stroke-width="0.7" />
<line x1="379.15" y1="306.70" x2="379.15" y2="315.70" stroke="#333" stroke-width="0.7" stroke-dasharray="1.8,1.1"/>
<line x1="379.15" y1="346.00" x2="379.15" y2="353.30" stroke="#333" stroke-width="0.7" stroke-dasharray="1.8,1.1"/>
<line x1="377.25" y1="306.70" x2="381.05" y2="306.70" stroke="#333" stroke-width="0.8" />
<line x1="377.25" y1="353.30" x2="381.05" y2="353.30" stroke="#333" stroke-width="0.8" />
<rect x="375.00" y="315.70" width="8.30" height="30.30" fill="none" stroke="#f05050" stroke-width="0.9"/>
<line x1="375.00" y1="332.30" x2="383.30" y2="332.30" stroke="#f05050" stroke-width="0.9" />
<text x="379.15" y="366.89" font-size="9.2" text-anchor="middle" fill="#222" >1</text>
<line x1="398.35" y1="271.70" x2="398.35" y2="303.30" stroke="#333" stroke-width="0.7" stroke-dasharray="1.8,1.1"/>
<line x1="398.35" y1="326.70" x2="398.35" y2="351.70" stroke="#333" stroke-width="0.7" stroke-dasharray="1.8,1.1"/>
<line x1="396.45" y1="271.70" x2="400.25" y2="271.70" stroke="#333" stroke-width="0.8" />
<line x1="396.45" y1="351.70" x2="400.25" y2="351.70" stroke="#333" stroke-width="0.8" />
<rect x="394.00" y="303.30" width="8.70" height="23.40" fill="none" stroke="#40e040" stroke-width="0.9"/>
<line x1="394.00" y1="319.30" x2="402.70" y2="319.30" stroke="#40e040" stroke-width="0.9" />
<text x="398.35" y="366.89" font-size="9.2" text-anchor="middle" fill="#222" >3</text>
<line x1="416.65" y1="282.70" x2="416.65" y2="301.70" stroke="#333" stroke-width="0.7" stroke-dasharray="1.8,1.1"/>
<line x1="416.65" y1="326.00" x2="416.65" y2="354.30" stroke="#333" stroke-width="0.7" stroke-dasharray="1.8,1.1"/>
<line x1="414.75" y1="282.70" x2="418.55" y2="282.70" stroke="#333" stroke-width="0.8" />
<line x1="414.75" y1="354.30" x2="418.55" y2="354.30" stroke="#333" stroke-width="0.8" />
<rect x="412.30" y="301.70" width="8.70" height="24.30" fill="none" stroke="#3030f0" stroke-width="0.9"/>
<line x1="412.30" y1="317.30" x2="421.00" y2="317.30" stroke="#3030f0" stroke-width="0.9" />
<text x="416.65" y="366.89" font-size="9.2" text-anchor="middle" fill="#222" >5</text>
<text x="398.00" y="376.44" font-size="9.6" text-anchor="middle" fill="#222" >Reward</text>
<text x="0" y="3.58" font-size="10.0" text-anchor="middle" fill="#222" font-weight="bold" transform="translate(342.30,302.60) rotate(-90)" >TTPD, ms</text>
<text x="457.40" y="254.49" font-size="17" text-anchor="start" fill="#000" font-weight="bold" >E</text>
<text x="512.90" y="251.97" font-size="10.8" text-anchor="middle" fill="#000" font-weight="bold" >VR=1</text>
<line x1="485.80" y1="256.00" x2="485.80" y2="394.30" stroke="#777" stroke-width="0.9" />
<line x1="485.80" y1="394.30" x2="528.30" y2="394.30" stroke="#777" stroke-width="0.9" />
<text x="483.60" y="258.46" font-size="6.6" text-anchor="end" fill="#555" >1.6</text>
<line x1="485.80" y1="256.10" x2="487.00" y2="256.10" stroke="#777" stroke-width="0.7" />
<text x="483.60" y="278.31" font-size="6.6" text-anchor="end" fill="#555" >1.4</text>
<line x1="485.80" y1="275.95" x2="487.00" y2="275.95" stroke="#777" stroke-width="0.7" />
<text x="483.60" y="298.16" font-size="6.6" text-anchor="end" fill="#555" >1.2</text>
<line x1="485.80" y1="295.80" x2="487.00" y2="295.80" stroke="#777" stroke-width="0.7" />
<text x="483.60" y="318.01" font-size="6.6" text-anchor="end" fill="#555" >1.0</text>
<line x1="485.80" y1="315.65" x2="487.00" y2="315.65" stroke="#777" stroke-width="0.7" />
<text x="483.60" y="337.86" font-size="6.6" text-anchor="end" fill="#555" >0.8</text>
<line x1="485.80" y1="335.50" x2="487.00" y2="335.50" stroke="#777" stroke-width="0.7" />
<text x="483.60" y="357.71" font-size="6.6" text-anchor="end" fill="#555" >0.6</text>
<line x1="485.80" y1="355.35" x2="487.00" y2="355.35" stroke="#777" stroke-width="0.7" />
<text x="483.60" y="377.56" font-size="6.6" text-anchor="end" fill="#555" >0.4</text>
<line x1="485.80" y1="375.20" x2="487.00" y2="375.20" stroke="#777" stroke-width="0.7" />
<text x="488.60" y="402.01" font-size="7.0" text-anchor="middle" fill="#444" >0.5</text>
<line x1="488.50" y1="394.30" x2="488.50" y2="393.20" stroke="#777" stroke-width="0.7" />
<text x="501.35" y="402.01" font-size="7.0" text-anchor="middle" fill="#444" >1.0</text>
<line x1="501.55" y1="394.30" x2="501.55" y2="393.20" stroke="#777" stroke-width="0.7" />
<text x="514.10" y="402.01" font-size="7.0" text-anchor="middle" fill="#444" >1.5</text>
<line x1="514.60" y1="394.30" x2="514.60" y2="393.20" stroke="#777" stroke-width="0.7" />
<text x="526.85" y="402.01" font-size="7.0" text-anchor="middle" fill="#444" >2.0</text>
<line x1="527.65" y1="394.30" x2="527.65" y2="393.20" stroke="#777" stroke-width="0.7" />
<line x1="507.00" y1="376.50" x2="517.00" y2="376.50" stroke="#ff4040" stroke-width="0.9" />
<line x1="507.30" y1="375.40" x2="507.30" y2="377.60" stroke="#ff4040" stroke-width="0.8" />
<line x1="516.70" y1="375.40" x2="516.70" y2="377.60" stroke="#ff4040" stroke-width="0.8" />
<circle cx="512.00" cy="376.50" r="1.5" fill="#a04000" stroke="#ff4040" stroke-width="0.6"/>
<text x="518.40" y="379.01" font-size="7.0" text-anchor="start" fill="#333" >OT</text>
<line x1="507.00" y1="384.90" x2="517.00" y2="384.90" stroke="#a03030" stroke-width="0.9" />
<line x1="507.30" y1="383.80" x2="507.30" y2="386.00" stroke="#a03030" stroke-width="0.8" />
<line x1="516.70" y1="383.80" x2="516.70" y2="386.00" stroke="#a03030" stroke-width="0.8" />
<circle cx="512.00" cy="384.90" r="1.5" fill="#301000" stroke="#a03030" stroke-width="0.6"/>
<text x="518.40" y="387.41" font-size="7.0" text-anchor="start" fill="#333" >MS</text>
<line x1="496.30" y1="346.40" x2="504.30" y2="346.40" stroke="#ff2020" stroke-width="0.7" />
<line x1="496.30" y1="345.40" x2="496.30" y2="347.40" stroke="#ff2020" stroke-width="0.5599999999999999" />
<line x1="504.30" y1="345.40" x2="504.30" y2="347.40" stroke="#ff2020" stroke-width="0.5599999999999999" />
<line x1="499.90" y1="334.30" x2="499.90" y2="369.30" stroke="#ff2020" stroke-width="0.7" />
<line x1="498.90" y1="334.30" x2="500.90" y2="334.30" stroke="#ff2020" stroke-width="0.5599999999999999" />
<line x1="498.90" y1="369.30" x2="500.90" y2="369.30" stroke="#ff2020" stroke-width="0.5599999999999999" />
<line x1="495.40" y1="357.70" x2="501.60" y2="357.70" stroke="#ff2020" stroke-width="0.7" />
<line x1="495.40" y1="356.70" x2="495.40" y2="358.70" stroke="#ff2020" stroke-width="0.5599999999999999" />
<line x1="501.60" y1="356.70" x2="501.60" y2="358.70" stroke="#ff2020" stroke-width="0.5599999999999999" />
<circle cx="499.90" cy="346.40" r="1.4" fill="#5a1010" stroke="#ff2020" stroke-width="0.6"/>
<circle cx="498.40" cy="357.70" r="1.4" fill="#c02020" stroke="#ff2020" stroke-width="0.6"/>
<circle cx="495.90" cy="349.60" r="1.4" fill="#4a2010" stroke="#4a2010" stroke-width="0.6"/>
<line x1="491.80" y1="368.20" x2="495.40" y2="368.20" stroke="#ff2020" stroke-width="1.0" />
<line x1="491.80" y1="367.20" x2="491.80" y2="369.20" stroke="#ff2020" stroke-width="0.8" />
<line x1="495.40" y1="367.20" x2="495.40" y2="369.20" stroke="#ff2020" stroke-width="0.8" />
<line x1="493.60" y1="365.20" x2="493.60" y2="371.80" stroke="#ff2020" stroke-width="1.0" />
<line x1="492.60" y1="365.20" x2="494.60" y2="365.20" stroke="#ff2020" stroke-width="0.8" />
<line x1="492.60" y1="371.80" x2="494.60" y2="371.80" stroke="#ff2020" stroke-width="0.8" />
<circle cx="493.60" cy="368.20" r="1.6" fill="#b01010" stroke="#ff2020" stroke-width="0.6"/>
<circle cx="491.50" cy="378.60" r="1.5" fill="#901010" stroke="#901010" stroke-width="0.6"/>
<line x1="488.30" y1="384.80" x2="494.50" y2="384.80" stroke="#d04040" stroke-width="0.7" />
<line x1="488.30" y1="383.80" x2="488.30" y2="385.80" stroke="#d04040" stroke-width="0.5599999999999999" />
<line x1="494.50" y1="383.80" x2="494.50" y2="385.80" stroke="#d04040" stroke-width="0.5599999999999999" />
<line x1="491.50" y1="375.90" x2="491.50" y2="393.80" stroke="#d04040" stroke-width="0.7" />
<line x1="490.50" y1="375.90" x2="492.50" y2="375.90" stroke="#d04040" stroke-width="0.5599999999999999" />
<line x1="490.50" y1="393.80" x2="492.50" y2="393.80" stroke="#d04040" stroke-width="0.5599999999999999" />
<circle cx="491.50" cy="384.80" r="1.4" fill="#7a3010" stroke="#d04040" stroke-width="0.6"/>
<text x="574.00" y="251.97" font-size="10.8" text-anchor="middle" fill="#000" font-weight="bold" >VR=3</text>
<line x1="549.60" y1="256.00" x2="549.60" y2="394.30" stroke="#777" stroke-width="0.9" />
<line x1="549.60" y1="394.30" x2="592.10" y2="394.30" stroke="#777" stroke-width="0.9" />
<text x="547.40" y="258.46" font-size="6.6" text-anchor="end" fill="#555" >1.6</text>
<line x1="549.60" y1="256.10" x2="550.80" y2="256.10" stroke="#777" stroke-width="0.7" />
<text x="547.40" y="278.31" font-size="6.6" text-anchor="end" fill="#555" >1.4</text>
<line x1="549.60" y1="275.95" x2="550.80" y2="275.95" stroke="#777" stroke-width="0.7" />
<text x="547.40" y="298.16" font-size="6.6" text-anchor="end" fill="#555" >1.2</text>
<line x1="549.60" y1="295.80" x2="550.80" y2="295.80" stroke="#777" stroke-width="0.7" />
<text x="547.40" y="318.01" font-size="6.6" text-anchor="end" fill="#555" >1.0</text>
<line x1="549.60" y1="315.65" x2="550.80" y2="315.65" stroke="#777" stroke-width="0.7" />
<text x="547.40" y="337.86" font-size="6.6" text-anchor="end" fill="#555" >0.8</text>
<line x1="549.60" y1="335.50" x2="550.80" y2="335.50" stroke="#777" stroke-width="0.7" />
<text x="547.40" y="357.71" font-size="6.6" text-anchor="end" fill="#555" >0.6</text>
<line x1="549.60" y1="355.35" x2="550.80" y2="355.35" stroke="#777" stroke-width="0.7" />
<text x="547.40" y="377.56" font-size="6.6" text-anchor="end" fill="#555" >0.4</text>
<line x1="549.60" y1="375.20" x2="550.80" y2="375.20" stroke="#777" stroke-width="0.7" />
<text x="552.40" y="402.01" font-size="7.0" text-anchor="middle" fill="#444" >0.5</text>
<line x1="552.30" y1="394.30" x2="552.30" y2="393.20" stroke="#777" stroke-width="0.7" />
<text x="565.15" y="402.01" font-size="7.0" text-anchor="middle" fill="#444" >1.0</text>
<line x1="565.35" y1="394.30" x2="565.35" y2="393.20" stroke="#777" stroke-width="0.7" />
<text x="577.90" y="402.01" font-size="7.0" text-anchor="middle" fill="#444" >1.5</text>
<line x1="578.40" y1="394.30" x2="578.40" y2="393.20" stroke="#777" stroke-width="0.7" />
<text x="590.65" y="402.01" font-size="7.0" text-anchor="middle" fill="#444" >2.0</text>
<line x1="591.45" y1="394.30" x2="591.45" y2="393.20" stroke="#777" stroke-width="0.7" />
<line x1="568.20" y1="376.50" x2="578.20" y2="376.50" stroke="#40f040" stroke-width="0.9" />
<line x1="568.50" y1="375.40" x2="568.50" y2="377.60" stroke="#40f040" stroke-width="0.8" />
<line x1="577.90" y1="375.40" x2="577.90" y2="377.60" stroke="#40f040" stroke-width="0.8" />
<circle cx="573.20" cy="376.50" r="1.5" fill="#10c010" stroke="#105010" stroke-width="0.6"/>
<text x="579.60" y="379.01" font-size="7.0" text-anchor="start" fill="#333" >OT</text>
<line x1="568.20" y1="384.90" x2="578.20" y2="384.90" stroke="#60a050" stroke-width="0.9" />
<line x1="568.50" y1="383.80" x2="568.50" y2="386.00" stroke="#60a050" stroke-width="0.8" />
<line x1="577.90" y1="383.80" x2="577.90" y2="386.00" stroke="#60a050" stroke-width="0.8" />
<circle cx="573.20" cy="384.90" r="1.5" fill="#0a3a0a" stroke="#60a050" stroke-width="0.6"/>
<text x="579.60" y="387.41" font-size="7.0" text-anchor="start" fill="#333" >MS</text>
<line x1="558.10" y1="328.60" x2="572.40" y2="328.60" stroke="#78b040" stroke-width="0.7" />
<line x1="558.10" y1="327.60" x2="558.10" y2="329.60" stroke="#78b040" stroke-width="0.5599999999999999" />
<line x1="572.40" y1="327.60" x2="572.40" y2="329.60" stroke="#78b040" stroke-width="0.5599999999999999" />
<line x1="565.20" y1="304.80" x2="565.20" y2="369.00" stroke="#78b040" stroke-width="0.7" />
<line x1="564.20" y1="304.80" x2="566.20" y2="304.80" stroke="#78b040" stroke-width="0.5599999999999999" />
<line x1="564.20" y1="369.00" x2="566.20" y2="369.00" stroke="#78b040" stroke-width="0.5599999999999999" />
<line x1="557.00" y1="346.40" x2="568.00" y2="346.40" stroke="#78b040" stroke-width="0.7" />
<line x1="557.00" y1="345.40" x2="557.00" y2="347.40" stroke="#78b040" stroke-width="0.5599999999999999" />
<line x1="568.00" y1="345.40" x2="568.00" y2="347.40" stroke="#78b040" stroke-width="0.5599999999999999" />
<line x1="561.70" y1="335.70" x2="561.70" y2="355.00" stroke="#78b040" stroke-width="0.7" />
<line x1="560.70" y1="335.70" x2="562.70" y2="335.70" stroke="#78b040" stroke-width="0.5599999999999999" />
<line x1="560.70" y1="355.00" x2="562.70" y2="355.00" stroke="#78b040" stroke-width="0.5599999999999999" />
<line x1="555.00" y1="357.10" x2="567.00" y2="357.10" stroke="#33ee33" stroke-width="0.7" />
<line x1="555.00" y1="356.10" x2="555.00" y2="358.10" stroke="#33ee33" stroke-width="0.5599999999999999" />
<line x1="567.00" y1="356.10" x2="567.00" y2="358.10" stroke="#33ee33" stroke-width="0.5599999999999999" />
<line x1="560.50" y1="344.00" x2="560.50" y2="371.40" stroke="#33ee33" stroke-width="0.7" />
<line x1="559.50" y1="344.00" x2="561.50" y2="344.00" stroke="#33ee33" stroke-width="0.5599999999999999" />
<line x1="559.50" y1="371.40" x2="561.50" y2="371.40" stroke="#33ee33" stroke-width="0.5599999999999999" />
<line x1="556.00" y1="359.50" x2="563.00" y2="359.50" stroke="#22cc22" stroke-width="0.7" />
<line x1="556.00" y1="358.50" x2="556.00" y2="360.50" stroke="#22cc22" stroke-width="0.5599999999999999" />
<line x1="563.00" y1="358.50" x2="563.00" y2="360.50" stroke="#22cc22" stroke-width="0.5599999999999999" />
<line x1="559.30" y1="348.00" x2="559.30" y2="369.00" stroke="#22cc22" stroke-width="0.7" />
<line x1="558.30" y1="348.00" x2="560.30" y2="348.00" stroke="#22cc22" stroke-width="0.5599999999999999" />
<line x1="558.30" y1="369.00" x2="560.30" y2="369.00" stroke="#22cc22" stroke-width="0.5599999999999999" />
<line x1="549.80" y1="364.30" x2="564.00" y2="364.30" stroke="#78b040" stroke-width="0.7" />
<line x1="549.80" y1="363.30" x2="549.80" y2="365.30" stroke="#78b040" stroke-width="0.5599999999999999" />
<line x1="564.00" y1="363.30" x2="564.00" y2="365.30" stroke="#78b040" stroke-width="0.5599999999999999" />
<line x1="556.90" y1="352.00" x2="556.90" y2="374.00" stroke="#78b040" stroke-width="0.7" />
<line x1="555.90" y1="352.00" x2="557.90" y2="352.00" stroke="#78b040" stroke-width="0.5599999999999999" />
<line x1="555.90" y1="374.00" x2="557.90" y2="374.00" stroke="#78b040" stroke-width="0.5599999999999999" />
<line x1="553.00" y1="370.20" x2="560.00" y2="370.20" stroke="#78b040" stroke-width="0.7" />
<line x1="553.00" y1="369.20" x2="553.00" y2="371.20" stroke="#78b040" stroke-width="0.5599999999999999" />
<line x1="560.00" y1="369.20" x2="560.00" y2="371.20" stroke="#78b040" stroke-width="0.5599999999999999" />
<line x1="556.40" y1="352.00" x2="556.40" y2="394.00" stroke="#78b040" stroke-width="0.7" />
<line x1="555.40" y1="352.00" x2="557.40" y2="352.00" stroke="#78b040" stroke-width="0.5599999999999999" />
<line x1="555.40" y1="394.00" x2="557.40" y2="394.00" stroke="#78b040" stroke-width="0.5599999999999999" />
<line x1="551.70" y1="383.30" x2="557.60" y2="383.30" stroke="#78b040" stroke-width="0.7" />
<line x1="551.70" y1="382.30" x2="551.70" y2="384.30" stroke="#78b040" stroke-width="0.5599999999999999" />
<line x1="557.60" y1="382.30" x2="557.60" y2="384.30" stroke="#78b040" stroke-width="0.5599999999999999" />
<line x1="554.50" y1="378.00" x2="554.50" y2="394.00" stroke="#78b040" stroke-width="0.7" />
<line x1="553.50" y1="378.00" x2="555.50" y2="378.00" stroke="#78b040" stroke-width="0.5599999999999999" />
<line x1="553.50" y1="394.00" x2="555.50" y2="394.00" stroke="#78b040" stroke-width="0.5599999999999999" />
<line x1="560.00" y1="350.00" x2="566.00" y2="350.00" stroke="#33ee33" stroke-width="0.7" />
<line x1="560.00" y1="349.00" x2="560.00" y2="351.00" stroke="#33ee33" stroke-width="0.5599999999999999" />
<line x1="566.00" y1="349.00" x2="566.00" y2="351.00" stroke="#33ee33" stroke-width="0.5599999999999999" />
<line x1="563.00" y1="343.00" x2="563.00" y2="360.00" stroke="#33ee33" stroke-width="0.7" />
<line x1="562.00" y1="343.00" x2="564.00" y2="343.00" stroke="#33ee33" stroke-width="0.5599999999999999" />
<line x1="562.00" y1="360.00" x2="564.00" y2="360.00" stroke="#33ee33" stroke-width="0.5599999999999999" />
<line x1="556.00" y1="340.80" x2="556.00" y2="394.00" stroke="#78b040" stroke-width="0.7" />
<line x1="558.70" y1="338.00" x2="558.70" y2="370.70" stroke="#78b040" stroke-width="0.7" />
<line x1="561.40" y1="336.30" x2="561.40" y2="363.40" stroke="#78b040" stroke-width="0.7" />
<line x1="564.10" y1="337.20" x2="564.10" y2="356.20" stroke="#78b040" stroke-width="0.7" />
<line x1="560.50" y1="337.20" x2="560.50" y2="374.30" stroke="#33ee33" stroke-width="0.8" />
<line x1="556.90" y1="347.10" x2="567.70" y2="347.10" stroke="#78b040" stroke-width="0.7" />
<line x1="549.60" y1="365.20" x2="564.10" y2="365.20" stroke="#78b040" stroke-width="0.7" />
<line x1="551.00" y1="369.70" x2="563.00" y2="369.70" stroke="#78b040" stroke-width="0.7" />
<circle cx="565.20" cy="328.60" r="1.4" fill="#88aa44" stroke="#224a14" stroke-width="0.6"/>
<circle cx="561.70" cy="346.40" r="1.4" fill="#8fd060" stroke="#224a14" stroke-width="0.6"/>
<circle cx="562.90" cy="347.60" r="1.4" fill="#44cc44" stroke="#224a14" stroke-width="0.6"/>
<circle cx="560.50" cy="357.10" r="1.4" fill="#44dd44" stroke="#228822" stroke-width="0.6"/>
<circle cx="559.30" cy="359.50" r="1.4" fill="#66bb44" stroke="#224a14" stroke-width="0.6"/>
<circle cx="556.90" cy="364.30" r="1.4" fill="#aacc88" stroke="#224a14" stroke-width="0.6"/>
<circle cx="556.40" cy="370.20" r="1.4" fill="#aacc88" stroke="#224a14" stroke-width="0.6"/>
<circle cx="554.50" cy="383.30" r="1.4" fill="#66aa44" stroke="#224a14" stroke-width="0.6"/>
<text x="638.10" y="251.97" font-size="10.8" text-anchor="middle" fill="#000" font-weight="bold" >VR=5</text>
<line x1="615.60" y1="256.00" x2="615.60" y2="394.30" stroke="#777" stroke-width="0.9" />
<line x1="615.60" y1="394.30" x2="658.10" y2="394.30" stroke="#777" stroke-width="0.9" />
<text x="613.40" y="258.46" font-size="6.6" text-anchor="end" fill="#555" >1.6</text>
<line x1="615.60" y1="256.10" x2="616.80" y2="256.10" stroke="#777" stroke-width="0.7" />
<text x="613.40" y="278.31" font-size="6.6" text-anchor="end" fill="#555" >1.4</text>
<line x1="615.60" y1="275.95" x2="616.80" y2="275.95" stroke="#777" stroke-width="0.7" />
<text x="613.40" y="298.16" font-size="6.6" text-anchor="end" fill="#555" >1.2</text>
<line x1="615.60" y1="295.80" x2="616.80" y2="295.80" stroke="#777" stroke-width="0.7" />
<text x="613.40" y="318.01" font-size="6.6" text-anchor="end" fill="#555" >1.0</text>
<line x1="615.60" y1="315.65" x2="616.80" y2="315.65" stroke="#777" stroke-width="0.7" />
<text x="613.40" y="337.86" font-size="6.6" text-anchor="end" fill="#555" >0.8</text>
<line x1="615.60" y1="335.50" x2="616.80" y2="335.50" stroke="#777" stroke-width="0.7" />
<text x="613.40" y="357.71" font-size="6.6" text-anchor="end" fill="#555" >0.6</text>
<line x1="615.60" y1="355.35" x2="616.80" y2="355.35" stroke="#777" stroke-width="0.7" />
<text x="613.40" y="377.56" font-size="6.6" text-anchor="end" fill="#555" >0.4</text>
<line x1="615.60" y1="375.20" x2="616.80" y2="375.20" stroke="#777" stroke-width="0.7" />
<text x="618.40" y="402.01" font-size="7.0" text-anchor="middle" fill="#444" >0.5</text>
<line x1="618.30" y1="394.30" x2="618.30" y2="393.20" stroke="#777" stroke-width="0.7" />
<text x="631.15" y="402.01" font-size="7.0" text-anchor="middle" fill="#444" >1.0</text>
<line x1="631.35" y1="394.30" x2="631.35" y2="393.20" stroke="#777" stroke-width="0.7" />
<text x="643.90" y="402.01" font-size="7.0" text-anchor="middle" fill="#444" >1.5</text>
<line x1="644.40" y1="394.30" x2="644.40" y2="393.20" stroke="#777" stroke-width="0.7" />
<text x="656.65" y="402.01" font-size="7.0" text-anchor="middle" fill="#444" >2.0</text>
<line x1="657.45" y1="394.30" x2="657.45" y2="393.20" stroke="#777" stroke-width="0.7" />
<line x1="633.80" y1="376.50" x2="643.80" y2="376.50" stroke="#3030a0" stroke-width="0.9" />
<line x1="634.10" y1="375.40" x2="634.10" y2="377.60" stroke="#3030a0" stroke-width="0.8" />
<line x1="643.50" y1="375.40" x2="643.50" y2="377.60" stroke="#3030a0" stroke-width="0.8" />
<circle cx="638.80" cy="376.50" r="1.5" fill="#000040" stroke="#3030a0" stroke-width="0.6"/>
<text x="645.20" y="379.01" font-size="7.0" text-anchor="start" fill="#333" >OT</text>
<line x1="633.80" y1="384.90" x2="643.80" y2="384.90" stroke="#20e0ff" stroke-width="0.9" />
<line x1="634.10" y1="383.80" x2="634.10" y2="386.00" stroke="#20e0ff" stroke-width="0.8" />
<line x1="643.50" y1="383.80" x2="643.50" y2="386.00" stroke="#20e0ff" stroke-width="0.8" />
<circle cx="638.80" cy="384.90" r="1.5" fill="#1080f0" stroke="#20e0ff" stroke-width="0.6"/>
<text x="645.20" y="387.41" font-size="7.0" text-anchor="start" fill="#333" >MS</text>
<line x1="625.00" y1="326.25" x2="636.25" y2="326.25" stroke="#50b8e8" stroke-width="0.7" />
<line x1="625.00" y1="325.25" x2="625.00" y2="327.25" stroke="#50b8e8" stroke-width="0.5599999999999999" />
<line x1="636.25" y1="325.25" x2="636.25" y2="327.25" stroke="#50b8e8" stroke-width="0.5599999999999999" />
<line x1="630.75" y1="302.50" x2="630.75" y2="345.00" stroke="#50b8e8" stroke-width="0.7" />
<line x1="629.75" y1="302.50" x2="631.75" y2="302.50" stroke="#50b8e8" stroke-width="0.5599999999999999" />
<line x1="629.75" y1="345.00" x2="631.75" y2="345.00" stroke="#50b8e8" stroke-width="0.5599999999999999" />
<line x1="622.00" y1="355.00" x2="632.00" y2="355.00" stroke="#50b8e8" stroke-width="0.7" />
<line x1="622.00" y1="354.00" x2="622.00" y2="356.00" stroke="#50b8e8" stroke-width="0.5599999999999999" />
<line x1="632.00" y1="354.00" x2="632.00" y2="356.00" stroke="#50b8e8" stroke-width="0.5599999999999999" />
<line x1="626.25" y1="343.75" x2="626.25" y2="370.00" stroke="#50b8e8" stroke-width="0.7" />
<line x1="625.25" y1="343.75" x2="627.25" y2="343.75" stroke="#50b8e8" stroke-width="0.5599999999999999" />
<line x1="625.25" y1="370.00" x2="627.25" y2="370.00" stroke="#50b8e8" stroke-width="0.5599999999999999" />
<line x1="610.50" y1="367.50" x2="628.75" y2="367.50" stroke="#50b8e8" stroke-width="0.7" />
<line x1="610.50" y1="366.50" x2="610.50" y2="368.50" stroke="#50b8e8" stroke-width="0.5599999999999999" />
<line x1="628.75" y1="366.50" x2="628.75" y2="368.50" stroke="#50b8e8" stroke-width="0.5599999999999999" />
<line x1="621.25" y1="355.00" x2="621.25" y2="380.00" stroke="#50b8e8" stroke-width="0.7" />
<line x1="620.25" y1="355.00" x2="622.25" y2="355.00" stroke="#50b8e8" stroke-width="0.5599999999999999" />
<line x1="620.25" y1="380.00" x2="622.25" y2="380.00" stroke="#50b8e8" stroke-width="0.5599999999999999" />
<line x1="617.00" y1="385.00" x2="624.00" y2="385.00" stroke="#50b8e8" stroke-width="0.7" />
<line x1="617.00" y1="384.00" x2="617.00" y2="386.00" stroke="#50b8e8" stroke-width="0.5599999999999999" />
<line x1="624.00" y1="384.00" x2="624.00" y2="386.00" stroke="#50b8e8" stroke-width="0.5599999999999999" />
<line x1="620.00" y1="373.00" x2="620.00" y2="394.00" stroke="#50b8e8" stroke-width="0.7" />
<line x1="619.00" y1="373.00" x2="621.00" y2="373.00" stroke="#50b8e8" stroke-width="0.5599999999999999" />
<line x1="619.00" y1="394.00" x2="621.00" y2="394.00" stroke="#50b8e8" stroke-width="0.5599999999999999" />
<line x1="625.00" y1="346.25" x2="634.00" y2="346.25" stroke="#50b8e8" stroke-width="0.7" />
<line x1="625.00" y1="345.25" x2="625.00" y2="347.25" stroke="#50b8e8" stroke-width="0.5599999999999999" />
<line x1="634.00" y1="345.25" x2="634.00" y2="347.25" stroke="#50b8e8" stroke-width="0.5599999999999999" />
<line x1="628.75" y1="336.00" x2="628.75" y2="356.00" stroke="#50b8e8" stroke-width="0.7" />
<line x1="627.75" y1="336.00" x2="629.75" y2="336.00" stroke="#50b8e8" stroke-width="0.5599999999999999" />
<line x1="627.75" y1="356.00" x2="629.75" y2="356.00" stroke="#50b8e8" stroke-width="0.5599999999999999" />
<line x1="626.50" y1="335.00" x2="626.50" y2="375.00" stroke="#2020d0" stroke-width="2.0" />
<line x1="628.00" y1="357.50" x2="636.00" y2="357.50" stroke="#2020d0" stroke-width="0.7" />
<line x1="628.00" y1="356.50" x2="628.00" y2="358.50" stroke="#2020d0" stroke-width="0.5599999999999999" />
<line x1="636.00" y1="356.50" x2="636.00" y2="358.50" stroke="#2020d0" stroke-width="0.5599999999999999" />
<line x1="632.50" y1="345.00" x2="632.50" y2="372.00" stroke="#2020d0" stroke-width="0.7" />
<line x1="631.50" y1="345.00" x2="633.50" y2="345.00" stroke="#2020d0" stroke-width="0.5599999999999999" />
<line x1="631.50" y1="372.00" x2="633.50" y2="372.00" stroke="#2020d0" stroke-width="0.5599999999999999" />
<line x1="622.50" y1="356.25" x2="632.00" y2="356.25" stroke="#2020d0" stroke-width="0.7" />
<line x1="622.50" y1="355.25" x2="622.50" y2="357.25" stroke="#2020d0" stroke-width="0.5599999999999999" />
<line x1="632.00" y1="355.25" x2="632.00" y2="357.25" stroke="#2020d0" stroke-width="0.5599999999999999" />
<circle cx="630.75" cy="326.25" r="1.4" fill="#224466" stroke="#50b8e8" stroke-width="0.6"/>
<circle cx="628.75" cy="346.25" r="1.4" fill="#5aa0d0" stroke="#50b8e8" stroke-width="0.6"/>
<circle cx="632.00" cy="343.75" r="1.4" fill="#5aa0d0" stroke="#50b8e8" stroke-width="0.6"/>
<circle cx="626.25" cy="356.25" r="1.4" fill="#1a1a80" stroke="#3030d0" stroke-width="0.6"/>
<circle cx="632.50" cy="357.50" r="1.4" fill="#2a2ab0" stroke="#2020d0" stroke-width="0.6"/>
<circle cx="621.25" cy="367.50" r="1.4" fill="#224466" stroke="#50b8e8" stroke-width="0.6"/>
<circle cx="620.00" cy="385.00" r="1.4" fill="#5090c0" stroke="#50b8e8" stroke-width="0.6"/>
<text x="0" y="3.44" font-size="9.6" text-anchor="middle" fill="#222" font-weight="bold" transform="translate(465.00,322.30) rotate(-90)" >TTPD,s</text>
<text x="571.50" y="416.62" font-size="9.0" text-anchor="middle" fill="#222" font-weight="bold" >MT,s</text>
</svg></body></html>
